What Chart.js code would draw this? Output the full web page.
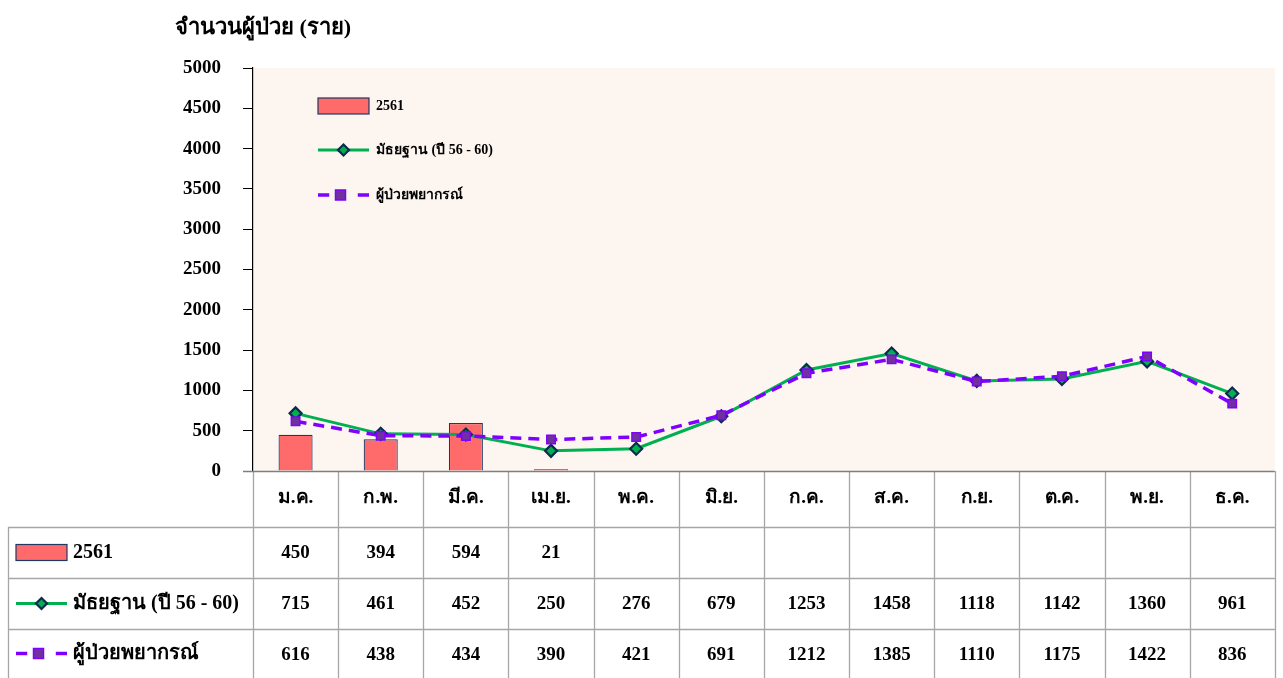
<!DOCTYPE html>
<html>
<head>
<meta charset="utf-8">
<script src="https://cdn.jsdelivr.net/npm/chart.js@4.4.1/dist/chart.umd.min.js"></script>
<style>
  body { margin: 0; background: #fff; }
  #chart { display: block; }
</style>
</head>
<body>
<canvas id="chart" width="1283" height="678"></canvas>
<script>
const months = ['ม.ค.', 'ก.พ.', 'มี.ค.', 'เม.ย.', 'พ.ค.', 'มิ.ย.', 'ก.ค.', 'ส.ค.', 'ก.ย.', 'ต.ค.', 'พ.ย.', 'ธ.ค.'];
const cases2561 = [450, 394, 594, 21, null, null, null, null, null, null, null, null];
const median5660 = [715, 461, 452, 250, 276, 679, 1253, 1458, 1118, 1142, 1360, 961];
const forecast = [616, 438, 434, 390, 421, 691, 1212, 1385, 1110, 1175, 1422, 836];
const seriesNames = ['2561', 'มัธยฐาน (ปี 56 - 60)', 'ผู้ป่วยพยากรณ์'];
const yTitle = 'จำนวนผู้ป่วย (ราย)';

const serif = "'Liberation Serif', 'Times New Roman', serif";
const barFill = '#FF6B6B';
const barEdge = '#1F3864';
const green = '#00B050';
const purple = '#7F00FF';

// legend sample for a series, drawn at (x, y) over a given width
const drawKey = (ctx, idx, x, y, w) => {
    ctx.save();
    if (idx === 0) {
        ctx.fillStyle = barFill;
        ctx.fillRect(x, y - 8, w, 16);
        ctx.strokeStyle = barEdge;
        ctx.lineWidth = 1.2;
        ctx.strokeRect(x, y - 8, w, 16);
    } else if (idx === 1) {
        ctx.strokeStyle = green;
        ctx.lineWidth = 3;
        ctx.beginPath();
        ctx.moveTo(x, y);
        ctx.lineTo(x + w, y);
        ctx.stroke();
        const cx = x + w / 2;
        ctx.beginPath();
        ctx.moveTo(cx, y - 5.5);
        ctx.lineTo(cx + 5.5, y);
        ctx.lineTo(cx, y + 5.5);
        ctx.lineTo(cx - 5.5, y);
        ctx.closePath();
        ctx.fillStyle = green;
        ctx.fill();
        ctx.strokeStyle = '#0D2B4E';
        ctx.lineWidth = 2.2;
        ctx.stroke();
    } else {
        ctx.strokeStyle = purple;
        ctx.lineWidth = 3.5;
        ctx.beginPath();
        ctx.moveTo(x, y);
        ctx.lineTo(x + w * 0.22, y);
        ctx.moveTo(x + w * 0.78, y);
        ctx.lineTo(x + w, y);
        ctx.stroke();
        const cx = x + w / 2 - 3;
        ctx.fillStyle = '#7030A0';
        ctx.fillRect(cx - 5, y - 5, 10, 10);
        ctx.strokeStyle = purple;
        ctx.lineWidth = 1.5;
        ctx.strokeRect(cx - 5, y - 5, 10, 10);
    }
    ctx.restore();
};

const tablePlugin = {
    id: 'dataTable',
    beforeDraw(chart) {
        const { ctx, chartArea } = chart;
        ctx.save();
        ctx.fillStyle = '#fff';
        ctx.fillRect(0, 0, chart.width, chart.height);
        ctx.fillStyle = '#FDF5F0';
        ctx.fillRect(chartArea.left, chartArea.top, chartArea.right - chartArea.left, chartArea.bottom - chartArea.top);
        ctx.restore();
    },
    afterDraw(chart) {
        const { ctx, chartArea } = chart;
        const xs = chart.scales.x;
        const colW = (chartArea.right - chartArea.left) / months.length;
        const rowTops = [chartArea.bottom, 527, 578, 629, 680];
        const tableLeft = 8;
        ctx.save();

        // title
        ctx.fillStyle = '#000';
        ctx.font = 'bold 22px ' + serif;
        ctx.textBaseline = 'middle';
        ctx.textAlign = 'left';
        ctx.fillText(yTitle, 175, 28);

        // legend inside plot
        const legY = [106, 150, 195];
        ctx.font = 'bold 14px ' + serif;
        seriesNames.forEach((name, i) => {
            drawKey(ctx, i, 318, legY[i], 51);
            ctx.fillStyle = '#000';
            ctx.fillText(name, 376, legY[i]);
        });

        // table grid
        ctx.strokeStyle = '#A6A6A6';
        ctx.lineWidth = 1.3;
        ctx.beginPath();
        for (let i = 0; i <= months.length; i++) {
            const x = Math.round(chartArea.left + i * colW) + 0.5;
            ctx.moveTo(x, chartArea.bottom);
            ctx.lineTo(x, chart.height);
        }
        for (let r = 1; r < 4; r++) {
            ctx.moveTo(tableLeft, rowTops[r] + 0.5);
            ctx.lineTo(chartArea.right, rowTops[r] + 0.5);
        }
        ctx.moveTo(tableLeft + 0.5, rowTops[1]);
        ctx.lineTo(tableLeft + 0.5, chart.height);
        ctx.stroke();

        // x axis line
        ctx.strokeStyle = '#7F7F7F';
        ctx.lineWidth = 1.5;
        ctx.beginPath();
        ctx.moveTo(chartArea.left - 10, chartArea.bottom + 0.5);
        ctx.lineTo(chartArea.right, chartArea.bottom + 0.5);
        ctx.stroke();

        // header + values
        ctx.fillStyle = '#000';
        ctx.textAlign = 'center';
        ctx.font = 'bold 19px ' + serif;
        const rows = [cases2561, median5660, forecast];
        months.forEach((m, i) => {
            const cx = xs.getPixelForValue(i);
            ctx.fillText(m, cx, (rowTops[0] + rowTops[1]) / 2 - 1);
            rows.forEach((arr, r) => {
                if (arr[i] !== null) {
                    ctx.fillText(String(arr[i]), cx, (rowTops[r + 1] + rowTops[r + 2]) / 2 + 1);
                }
            });
        });

        // row labels with keys
        ctx.textAlign = 'left';
        ctx.font = 'bold 20px ' + serif;
        seriesNames.forEach((name, r) => {
            const cy = (rowTops[r + 1] + Math.min(rowTops[r + 2], 678)) / 2;
            drawKey(ctx, r, 16, cy, 51);
            ctx.fillStyle = '#000';
            ctx.fillText(name, 73, cy);
        });
        ctx.restore();
    }
};

new Chart(document.getElementById('chart'), {
    data: {
        labels: months,
        datasets: [
            {
                type: 'line',
                label: seriesNames[2],
                data: forecast,
                borderColor: purple,
                borderWidth: 3.5,
                borderDash: [11, 7],
                pointStyle: 'rect',
                pointRadius: 6,
                pointBackgroundColor: '#7030A0',
                pointBorderColor: purple,
                pointBorderWidth: 1.5,
                tension: 0,
                order: 0
            },
            {
                type: 'line',
                label: seriesNames[1],
                data: median5660,
                borderColor: green,
                borderWidth: 3,
                pointStyle: 'rectRot',
                pointRadius: 6,
                pointBackgroundColor: green,
                pointBorderColor: '#0D2B4E',
                pointBorderWidth: 2.2,
                tension: 0,
                order: 1
            },
            {
                type: 'bar',
                label: seriesNames[0],
                data: cases2561,
                backgroundColor: barFill,
                borderColor: barEdge,
                borderWidth: 1.2,
                categoryPercentage: 1,
                barPercentage: 0.4,
                order: 2
            }
        ]
    },
    options: {
        responsive: false,
        animation: false,
        layout: { padding: { top: 68, right: 5, bottom: 207, left: 0 } },
        plugins: {
            legend: { display: false },
            tooltip: { enabled: false }
        },
        scales: {
            x: { display: false },
            y: {
                min: 0,
                max: 5000,
                afterFit(scale) { scale.width = 253; },
                ticks: {
                    stepSize: 500,
                    color: '#000',
                    padding: 22,
                    font: { family: serif, size: 19, weight: 'bold' },
                    callback: (v) => String(v)
                },
                grid: {
                    drawOnChartArea: false,
                    drawTicks: true,
                    tickLength: 10,
                    color: '#000'
                },
                border: { display: true, color: '#000', width: 1.2 }
            }
        }
    },
    plugins: [tablePlugin]
});
</script>
</body>
</html>
